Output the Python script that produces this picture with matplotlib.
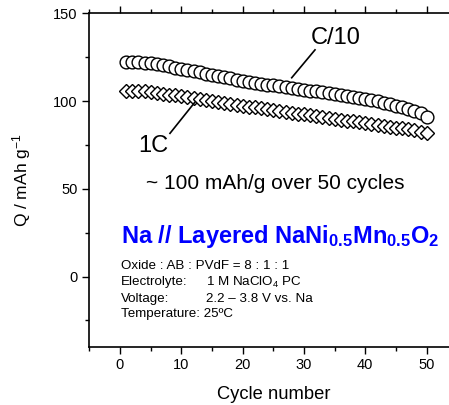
import matplotlib
matplotlib.use("Agg")
import matplotlib.pyplot as plt
from matplotlib.ticker import MultipleLocator

plt.rcParams['font.family'] = ['Liberation Sans', 'DejaVu Sans']
plt.rcParams['mathtext.fontset'] = 'custom'
plt.rcParams['mathtext.rm'] = 'Liberation Sans'
plt.rcParams['mathtext.it'] = 'Liberation Sans:italic'
plt.rcParams['mathtext.bf'] = 'Liberation Sans:bold'

# capacity vs cycle number
cycles = list(range(1, 51))
q_c10 = [122.2, 122.3, 122.2, 121.9, 121.5, 121.0, 120.4, 119.8, 119.1, 118.4,
         117.7, 117.0, 116.3, 115.6, 114.9, 114.2, 113.5, 112.9, 112.3, 111.7,
         111.1, 110.5, 109.9, 109.4, 108.9, 108.8, 108.2, 107.6, 107.0, 106.5,
         106.0, 105.5, 105.0, 104.5, 104.0, 103.5, 103.0, 102.4, 101.8, 101.2,
         100.5, 99.8, 99.0, 98.2, 97.4, 96.5, 95.6, 94.5, 93.0, 91.0]
q_1c = [106.0, 106.0, 105.8, 105.5, 105.1, 104.7, 104.2, 103.7, 103.2, 102.7,
        102.2, 101.7, 101.2, 100.6, 100.1, 99.6, 99.0, 98.5, 98.0, 97.4,
        96.9, 96.4, 95.9, 95.4, 94.9, 94.4, 93.9, 93.4, 92.9, 92.4,
        91.9, 91.4, 90.9, 90.4, 89.9, 89.4, 88.9, 88.4, 87.9, 87.4,
        86.9, 86.4, 85.9, 85.4, 84.9, 84.4, 83.9, 83.3, 82.6, 81.8]

fig = plt.figure(figsize=(4.49, 4.05), dpi=100)
ax = fig.add_axes([0.1989, 0.144, 0.8196, 0.823])

ax.plot(cycles, q_1c, linestyle='none', marker='D', ms=7.2, mfc='white',
        mec='black', mew=1.0)
ax.plot(cycles, q_c10, linestyle='none', marker='o', ms=9.2, mfc='white',
        mec='black', mew=1.0)

ax.set_xlim(-5, 55)
ax.set_ylim(-40, 150)
ax.xaxis.set_major_locator(MultipleLocator(10))
ax.xaxis.set_minor_locator(MultipleLocator(5))
ax.yaxis.set_major_locator(MultipleLocator(50))
ax.yaxis.set_minor_locator(MultipleLocator(25))
ax.tick_params(axis='both', which='major', direction='out', length=5, width=1,
               labelsize=10.5)
ax.tick_params(axis='both', which='minor', direction='out', length=3, width=1)
ax.tick_params(axis='x', which='both', top=True, bottom=True)
for sp in ax.spines.values():
    sp.set_linewidth(1.2)

ax.set_xlabel('Cycle number', fontsize=13.2, labelpad=10)
ax.set_ylabel(r'Q / mAh g$^{-1}$', fontsize=12.5, labelpad=14)

# curve labels
ax.plot([28.0, 31.8], [113.3, 129.2], color='black', lw=1.2)
ax.text(35.1, 136.2, 'C/10', fontsize=17, ha='center', va='center')
ax.plot([12.2, 8.15], [99.3, 81.6], color='black', lw=1.2)
ax.text(5.4, 74.3, '1C', fontsize=17, ha='center', va='center')

ax.text(25.3, 53.2, '~ 100 mAh/g over 50 cycles', fontsize=15,
        ha='center', va='center')
ax.text(0.2, 22.7,
        r'Na // Layered NaNi$_{\mathbf{0.5}}$Mn$_{\mathbf{0.5}}$O$_{\mathbf{2}}$',
        fontsize=17, fontweight='bold', color='#0000ff', ha='left', va='center')

info_x = 0.1
val_x = 14.0
fs = 9.6
ax.text(info_x, 6.0, 'Oxide : AB : PVdF = 8 : 1 : 1', fontsize=fs, va='center')
ax.text(info_x, -3.3, 'Electrolyte:', fontsize=fs, va='center')
ax.text(val_x, -3.3, r'1 M NaClO$_4$ PC', fontsize=fs, va='center')
ax.text(info_x, -12.8, 'Voltage:', fontsize=fs, va='center')
ax.text(val_x, -12.8, '2.2 – 3.8 V vs. Na', fontsize=fs, va='center')
ax.text(info_x, -21.5, 'Temperature: 25ºC', fontsize=fs, va='center')

fig.savefig('out.png', dpi=100)
